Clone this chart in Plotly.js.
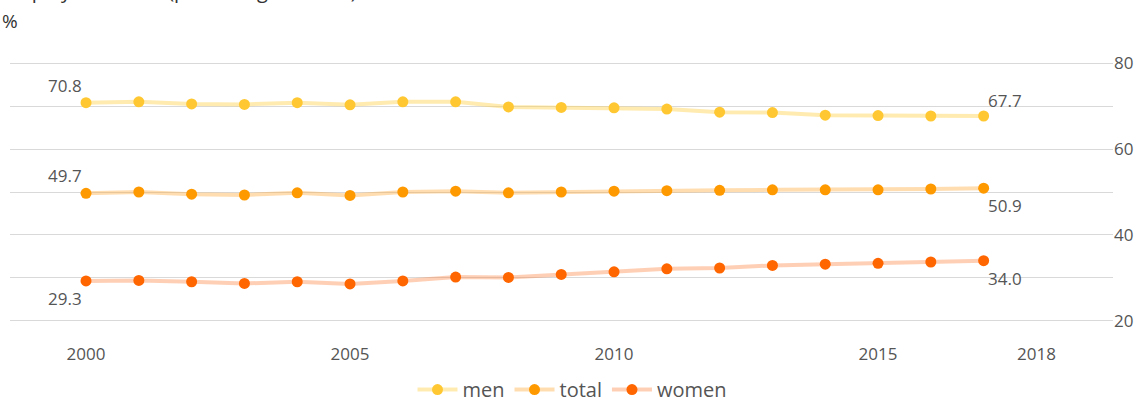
<!DOCTYPE html>
<html>
<head>
<meta charset="utf-8">
<script src="https://cdn.plot.ly/plotly-3.0.1.min.js"></script>
<style>
  html, body { margin: 0; padding: 0; background: #fff; }
  #chart { width: 1145px; height: 405px; }
</style>
</head>
<body>
<div id="chart"></div>
<script>
var years = [2000, 2001, 2002, 2003, 2004, 2005, 2006, 2007, 2008, 2009,
             2010, 2011, 2012, 2013, 2014, 2015, 2016, 2017];
var men   = [70.8, 71.0, 70.5, 70.4, 70.8, 70.3, 71.0, 71.0, 69.8, 69.7,
             69.6, 69.3, 68.6, 68.5, 67.9, 67.8, 67.7, 67.7];
var total = [49.7, 50.0, 49.5, 49.3, 49.8, 49.2, 50.0, 50.2, 49.8, 50.0,
             50.2, 50.3, 50.4, 50.5, 50.5, 50.5, 50.7, 50.9];
var women = [29.3, 29.4, 29.1, 28.7, 29.1, 28.6, 29.3, 30.2, 30.1, 30.8,
             31.4, 32.1, 32.3, 32.9, 33.2, 33.4, 33.7, 34.0];
var xTicks = [2000, 2005, 2010, 2015, 2018];
var yTicks = [20, 30, 40, 50, 60, 70, 80];
var yTickText = ["20", "", "40", "", "60", "", "80"];

var font = "Open Sans, sans-serif";
var grey = "#555555";

function series(name, y, dot, line) {
  return {
    x: years, y: y, name: name,
    type: "scatter", mode: "lines+markers",
    line: {color: line, width: 4},
    marker: {color: dot, size: 11},
    hoverinfo: "x+y"
  };
}

var data = [
  series("men", men, "#ffc832", "rgba(255,210,80,0.45)"),
  series("total", total, "#ff9900", "rgba(255,170,60,0.4)"),
  series("women", women, "#ff6600", "rgba(255,130,60,0.38)")
];

function lbl(x, y, ax, ay, xs, ys) {
  return {
    x: x, y: y, xref: "x", yref: "y", text: y.toFixed(1), showarrow: false,
    xanchor: ax, yanchor: ay, xshift: xs, yshift: ys,
    font: {family: font, size: 17, color: grey}
  };
}
var last = years.length - 1;

var layout = {
  width: 1145, height: 405,
  margin: {l: 10, r: 32, t: 46, b: 67},
  paper_bgcolor: "#fff", plot_bgcolor: "#fff",
  showlegend: true,
  legend: {
    orientation: "h", x: 0.5, xref: "container", xanchor: "center",
    y: 0.038, yref: "container", yanchor: "middle",
    font: {family: font, size: 20, color: grey}, itemwidth: 40
  },
  xaxis: {
    range: [1998.56, 2019.45],
    tickvals: xTicks, ticktext: xTicks.map(String),
    showgrid: false, zeroline: false, showline: false, ticks: "",
    ticklabelstandoff: 4,
    tickfont: {family: font, size: 17, color: grey}
  },
  yaxis: {
    range: [16, 84], side: "right",
    tickvals: yTicks, ticktext: yTickText,
    gridcolor: "#d9d9d9", gridwidth: 1, zeroline: false, showline: false,
    ticks: "", tickfont: {family: font, size: 17, color: grey}
  },
  annotations: [
    lbl(years[0], men[0], "right", "bottom", -2, 4),
    lbl(years[0], total[0], "right", "bottom", -2, 4),
    lbl(years[0], women[0], "right", "top", -2, -4),
    lbl(years[last], men[last], "left", "bottom", 2, 2),
    lbl(years[last], total[last], "left", "top", 2, -4),
    lbl(years[last], women[last], "left", "top", 2, -4),
    {
      xref: "paper", yref: "paper", x: 0, y: 1, xanchor: "left", yanchor: "bottom",
      xshift: -10, yshift: 10, showarrow: false, text: "%",
      font: {family: font, size: 19, color: "#333"}
    },
    {
      xref: "paper", yref: "paper", x: 0, y: 1, xanchor: "left", yanchor: "bottom",
      xshift: -10, yshift: 40, showarrow: false,
      text: "Employment rate (percentage of total)",
      font: {family: font, size: 20, color: "#333"}
    }
  ]
};

Plotly.newPlot("chart", data, layout, {displayModeBar: false, staticPlot: true});
</script>
</body>
</html>
